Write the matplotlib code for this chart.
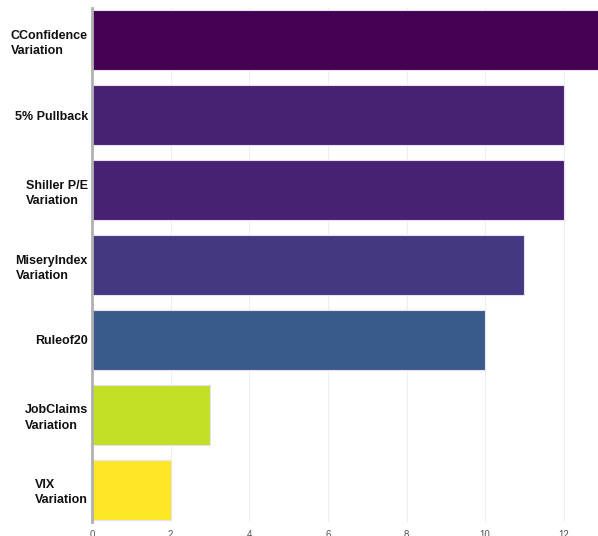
import matplotlib
matplotlib.use("Agg")
from matplotlib import pyplot as plt

# data
categories = ["CConfidence\nVariation", "5% Pullback", "Shiller P/E\nVariation",
              "MiseryIndex\nVariation", "Ruleof20", "JobClaims\nVariation", "VIX\nVariation"]
values = [13, 12, 12, 11, 10, 3, 2]
colors = ["#440154", "#482173", "#482173", "#453882", "#3a5a8c", "#c3df26", "#fde725"]
x_ticks = [0, 2, 4, 6, 8, 10, 12]

plt.rcParams['font.family'] = ['Liberation Sans', 'DejaVu Sans']

fig = plt.figure(figsize=(5.98, 5.36), dpi=100)
ax = fig.add_axes([92 / 598, 1 - 522 / 536, 1 - 92 / 598, (522 - 8) / 536])

pos = list(range(len(categories)))
ax.barh(pos, values, height=0.8, color=colors, edgecolor="#e8e0f0", linewidth=0.8, zorder=2)

ax.set_ylim(len(categories) - 1 + 0.43, -0.43)
ax.set_xlim(0, 12.87)
ax.set_yticks(pos)
ax.set_yticklabels(categories, fontsize=9, fontweight="bold", color="#111111")
for lab in ax.get_yticklabels():
    lab.set_multialignment("left")
    lab.set_linespacing(1.35)
ax.set_xticks(x_ticks)
ax.set_xticklabels([str(t) for t in x_ticks], fontsize=7, color="#555555")
ax.tick_params(axis="y", length=0, pad=3)
ax.tick_params(axis="x", length=0, pad=6)

ax.grid(axis="x", color="#eeeeee", linewidth=0.8, zorder=0)
ax.set_axisbelow(True)
for s in ["top", "right", "bottom"]:
    ax.spines[s].set_visible(False)
ax.spines["left"].set_color("#b0b0b0")
ax.spines["left"].set_linewidth(2)

fig.savefig("out.png", dpi=100)
